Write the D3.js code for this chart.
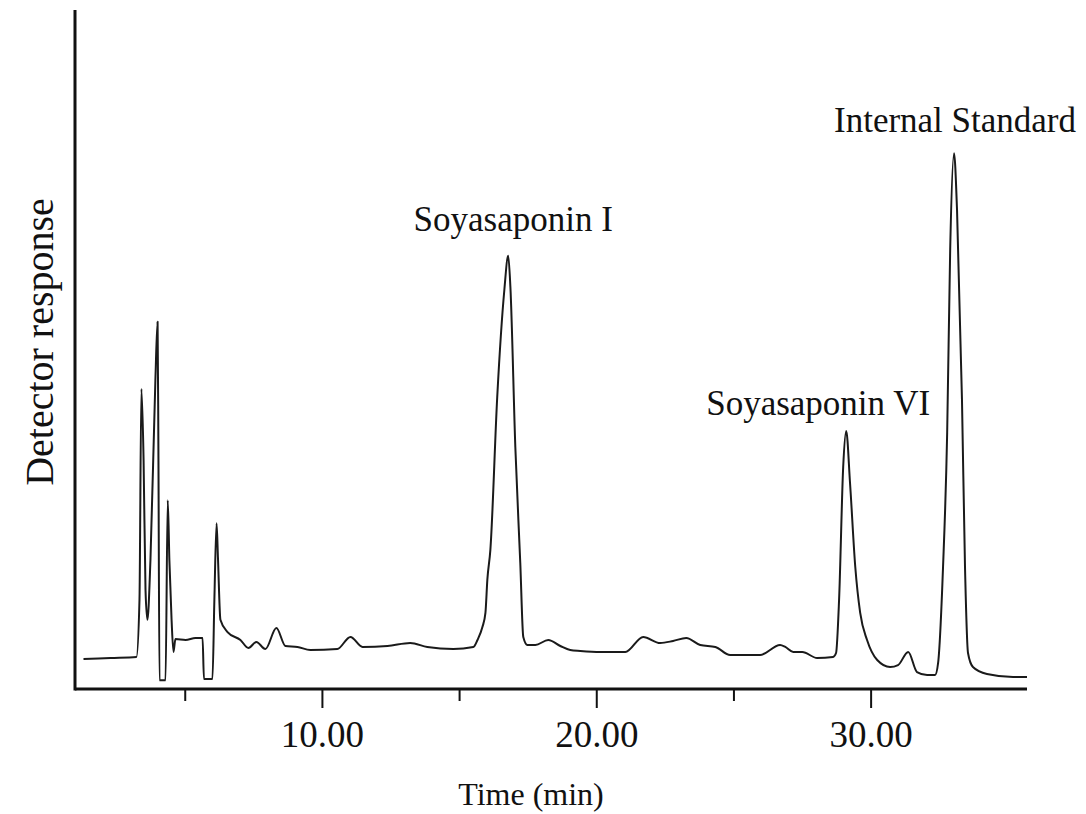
<!DOCTYPE html>
<html>
<head>
<meta charset="utf-8">
<script src="https://cdn.jsdelivr.net/npm/d3@7"></script>
<style>
  html, body { margin: 0; padding: 0; background: #fff; }
  svg { display: block; }
  text { font-family: "Liberation Serif", "Times New Roman", serif; fill: #111; }
</style>
</head>
<body>
<svg id="chart" width="1086" height="814"></svg>
<script>
// Retention time (min) of each sampled point of the chromatogram trace
const timeMin = [
  1.31, 2.30, 3.24, 3.35, 3.42, 3.50, 3.57, 3.64, 3.75, 3.93,
  4.01, 4.04, 4.08, 4.26, 4.30, 4.38, 4.44, 4.52, 4.59, 4.66,
  5.03, 5.39, 5.65, 5.70, 6.01, 6.08, 6.16, 6.21, 6.30, 6.56,
  7.03, 7.32, 7.61, 7.94, 8.34, 8.67, 9.11, 9.58, 10.56, 11.04,
  11.48, 12.39, 13.22, 13.84, 14.79, 15.52, 15.67, 15.85, 15.96, 16.03,
  16.14, 16.39, 16.65, 16.79, 16.87, 17.05, 17.23, 17.34, 17.49, 17.78,
  18.25, 18.69, 19.05, 19.42, 20.15, 21.06, 21.71, 22.33, 22.80, 23.28,
  23.79, 24.34, 24.88, 25.97, 26.70, 26.89, 27.18, 27.51, 28.05, 28.63,
  28.74, 28.85, 29.00, 29.11, 29.25, 29.44, 29.62, 29.87, 30.24, 30.71,
  31.00, 31.37, 31.69, 32.06, 32.35, 32.46, 32.64, 32.79, 32.90, 33.04,
  33.15, 33.33, 33.44, 33.55, 33.73, 34.24, 35.19, 35.70
];

// Detector response (relative units, full scale = 100)
const response = [
  4.42, 4.57, 4.71, 13.1, 44.2, 33.7, 14.6, 10.2, 19.0, 45.5,
  54.1, 35.2, 1.3, 1.3, 1.3, 27.8, 19.0, 10.2, 5.45, 7.36,
  7.22, 7.51, 7.51, 1.47, 1.47, 13.1, 24.4, 19.4, 10.2, 8.39,
  7.22, 6.04, 6.92, 5.89, 8.98, 6.33, 6.19, 5.74, 5.89, 7.66,
  6.19, 6.33, 6.77, 6.19, 5.89, 6.19, 7.22, 9.13, 11.2, 16.1,
  20.5, 43.0, 58.8, 63.8, 59.2, 35.6, 18.6, 7.66, 6.48, 6.48,
  7.22, 6.33, 5.74, 5.60, 5.45, 5.45, 7.66, 6.77, 7.07, 7.51,
  6.48, 6.19, 5.01, 5.01, 6.48, 6.19, 5.45, 5.45, 4.57, 4.71,
  5.30, 13.1, 32.7, 38.0, 30.3, 18.0, 11.2, 7.22, 4.27, 3.24,
  3.53, 5.45, 2.50, 2.06, 2.06, 3.83, 18.0, 37.7, 64.7, 78.9,
  70.5, 42.6, 18.0, 5.30, 3.24, 2.21, 1.77, 1.77
];

// Named peaks and their retention times
const peakNames = ["Soyasaponin I", "Soyasaponin VI", "Internal Standard"];
const peakTimes = [16.79, 29.11, 33.04];

// Axis ticks
const tickTimes = [5, 10, 15, 20, 25, 30];
const labelledTicks = [10, 20, 30];

const svg = d3.select("#chart");
const margin = { left: 75, right: 59, top: 10, bottom: 125 };
const W = 1086, H = 814;

const x = d3.scaleLinear().domain([1, 35.7]).range([margin.left, W - margin.right]);
const y = d3.scaleLinear().domain([0, 100]).range([H - margin.bottom, margin.top]);

// X axis with long labelled ticks and short unlabelled ones
const xAxis = d3.axisBottom(x)
  .tickValues(tickTimes)
  .tickSizeOuter(0)
  .tickPadding(20)
  .tickFormat(d => labelledTicks.includes(d) ? d3.format(".2f")(d) : "");

const gx = svg.append("g")
  .attr("transform", `translate(0,${y(0)})`)
  .call(xAxis);
gx.select(".domain").remove();
gx.selectAll(".tick line")
  .attr("stroke", "#111")
  .attr("stroke-width", 2)
  .attr("y2", d => labelledTicks.includes(d) ? 19 : 12);
gx.selectAll(".tick text")
  .attr("y", 58)
  .attr("dy", 0)
  .style("font-size", "37px")
  .style("font-family", "'Liberation Serif', serif")
  .attr("fill", "#111");

// Axis frame: left and bottom lines
svg.append("line")
  .attr("x1", x.range()[0]).attr("x2", x.range()[1])
  .attr("y1", y(0)).attr("y2", y(0))
  .attr("stroke", "#111").attr("stroke-width", 3);
svg.append("line")
  .attr("x1", x.range()[0]).attr("x2", x.range()[0])
  .attr("y1", y(0) + 1.5).attr("y2", y(100))
  .attr("stroke", "#111").attr("stroke-width", 3);

// Chromatogram trace
const points = timeMin.map((t, i) => [t, response[i]]);
const line = d3.line()
  .x(d => x(d[0]))
  .y(d => y(d[1]))
  .curve(d3.curveMonotoneX);

svg.append("path")
  .datum(points)
  .attr("d", line)
  .attr("fill", "none")
  .attr("stroke", "#1a1a1a")
  .attr("stroke-width", 2)
  .attr("stroke-linejoin", "round");

// Peak annotations above each named peak
const peakLabelDx = [5, -28, 1];
const peakLabelGap = [25, 16, 21];
const peakHeight = t => {
  const i = d3.minIndex(timeMin, v => Math.abs(v - t));
  return response[i];
};
svg.append("g").selectAll("text")
  .data(peakNames)
  .join("text")
  .attr("x", (d, i) => x(peakTimes[i]) + peakLabelDx[i])
  .attr("y", (d, i) => y(peakHeight(peakTimes[i])) - peakLabelGap[i])
  .attr("text-anchor", "middle")
  .style("font-size", "35px")
  .text(d => d);

// Axis titles
svg.append("text")
  .attr("x", (x.range()[0] + x.range()[1]) / 2 - 20)
  .attr("y", 805)
  .attr("text-anchor", "middle")
  .style("font-size", "32px")
  .text("Time (min)");

svg.append("text")
  .attr("transform", "translate(53,342) rotate(-90)")
  .attr("text-anchor", "middle")
  .style("font-size", "40px")
  .text("Detector response");
</script>
</body>
</html>
